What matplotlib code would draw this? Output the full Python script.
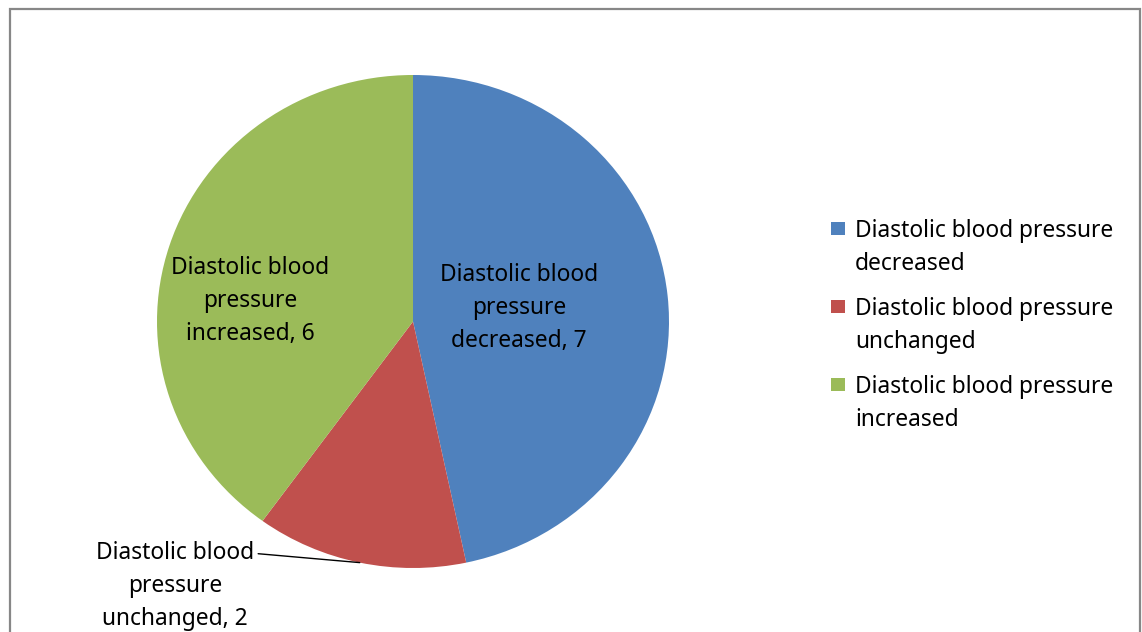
import numpy as np
import matplotlib.pyplot as plt
from matplotlib.patches import Rectangle

categories = [
    "Diastolic blood pressure decreased",
    "Diastolic blood pressure unchanged",
    "Diastolic blood pressure increased",
]
values = [7, 2, 6]
slice_labels = [
    "Diastolic blood\npressure\ndecreased, 7",
    "Diastolic blood\npressure\nunchanged, 2",
    "Diastolic blood\npressure\nincreased, 6",
]
legend_labels = [
    "Diastolic blood pressure\ndecreased",
    "Diastolic blood pressure\nunchanged",
    "Diastolic blood pressure\nincreased",
]
colors = ["#4F81BD", "#C0504D", "#9BBB59"]

plt.rcParams["font.family"] = ["Noto Sans", "DejaVu Sans"]

W, H = 1142, 632
fig = plt.figure(figsize=(W / 100, H / 100), dpi=100)

# chart frame (bottom edge falls outside the picture)
fig.patches.append(Rectangle((10 / W, -0.05), 1130 / W, (H - 9) / H + 0.05,
                             transform=fig.transFigure, fill=False,
                             edgecolor="#878787", linewidth=1.6))

# pie is slightly wider than tall in the reference
ax = fig.add_axes([157 / W, (H - 568) / H, 512 / W, 493 / H])
wedges, _ = ax.pie(values, colors=colors, startangle=90, counterclock=False,
                   radius=1.0, wedgeprops=dict(linewidth=0))
ax.set_aspect("auto")
ax.set_xlim(-1, 1)
ax.set_ylim(-1, 1)
ax.axis("off")

fs = 16.4
ls = 1.5
# inside labels
ax.text(0.415, 0.055, slice_labels[0], ha="center", va="center",
        fontsize=fs, linespacing=ls, color="black")
ax.text(-0.637, 0.085, slice_labels[2], ha="center", va="center",
        fontsize=fs, linespacing=ls, color="black")

# outside label for the small slice with a leader line
w = wedges[1]
mid = np.deg2rad((w.theta1 + w.theta2) / 2)
anchor = (np.cos(mid), np.sin(mid))
ax.annotate(slice_labels[1], xy=anchor, xytext=(-0.93, -1.072),
            ha="center", va="center", fontsize=fs, linespacing=ls,
            color="black", annotation_clip=False,
            arrowprops=dict(arrowstyle="-", color="black", lw=1.0,
                            shrinkA=1, shrinkB=0, relpos=(1.0, 0.86)))

# legend
for i, (lab, c) in enumerate(zip(legend_labels, colors)):
    top = 222 + i * 78
    fig.patches.append(Rectangle((831 / W, (H - top - 13) / H), 14 / W, 13 / H,
                                 transform=fig.transFigure, facecolor=c,
                                 edgecolor="none"))
    fig.text(855 / W, (H - 219 - i * 78) / H, lab, ha="left", va="top",
             fontsize=fs, linespacing=ls, color="black",
             transform=fig.transFigure)

fig.savefig("out.png", dpi=100)
